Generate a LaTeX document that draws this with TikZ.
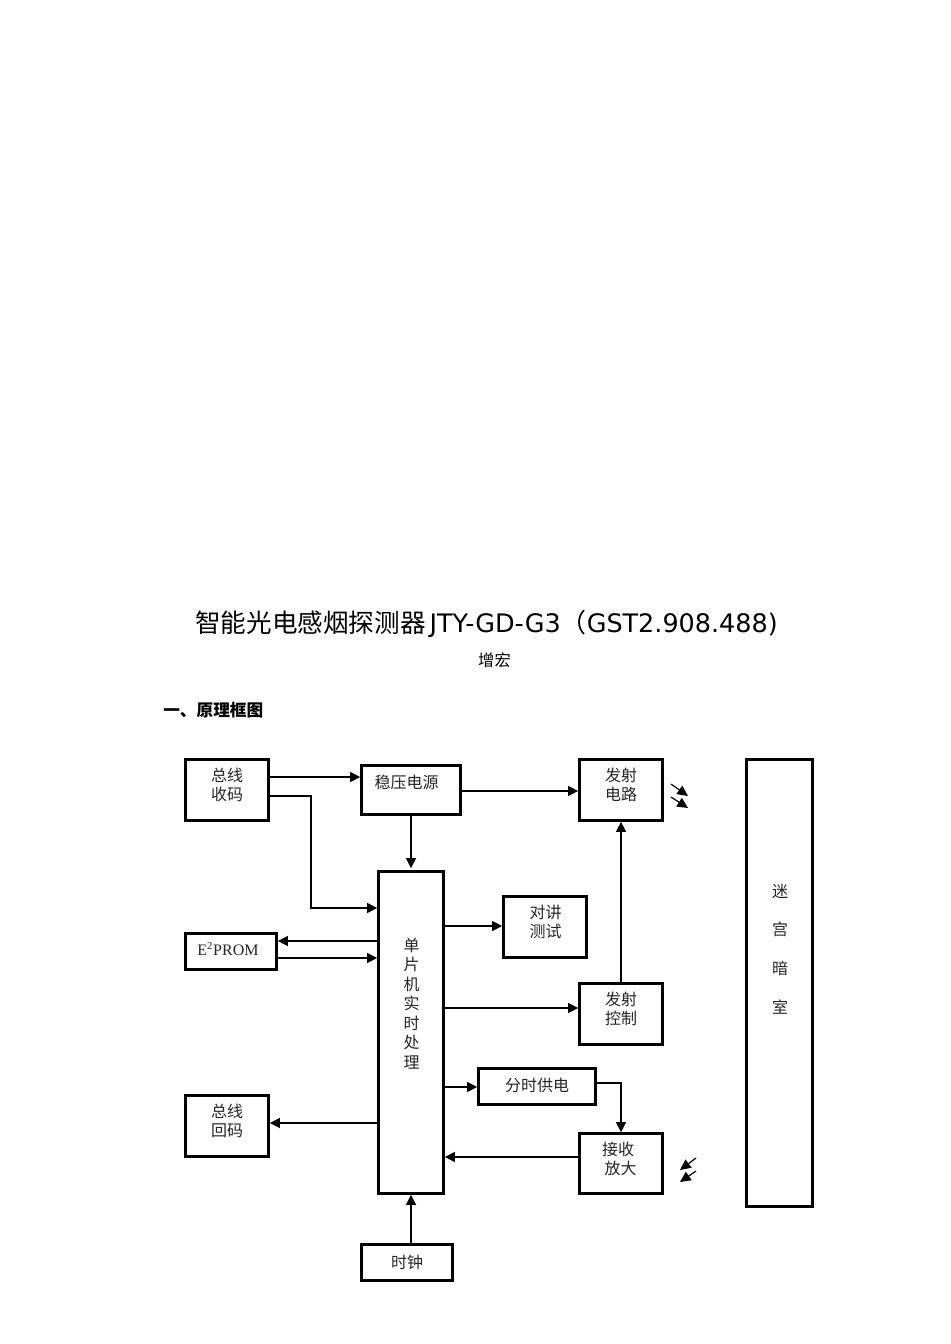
\documentclass[tikz,border=0pt]{standalone}
\usepackage{fontspec}
\setmainfont{DejaVu Sans}
\newfontfamily\cjk{Noto Sans CJK SC}
\newfontfamily\tnr{Liberation Serif}
\usetikzlibrary{arrows.meta}
\tikzset{
  x=0.75pt,y=-0.75pt,
  box/.style={draw=black,line width=1.9pt,fill=white,inner sep=0pt},
  lbl/.style={inner sep=0pt,align=center,font=\cjk\fontsize{12}{14.25}\selectfont,text=black!85},
  conn/.style={draw=black,line width=1pt,-{Triangle[length=7.5pt,width=7.5pt]}},
  ray/.style={draw=black,line width=0.9pt,-{Triangle[length=8pt,width=7.5pt]}}
}
\newcommand{\boxat}[5]{% name, x0, y0, x1, y1
  \node[box,minimum width=#4*0.75pt-#2*0.75pt-0.6pt,minimum height=#5*0.75pt-#3*0.75pt-0.6pt] (#1) at ({(#2+#4)/2},{(#3+#5)/2}) {};
}
\begin{document}
\begin{tikzpicture}
\useasboundingbox[fill=white] (0,0) rectangle (950,1344);
% headings
\node[inner sep=0pt,anchor=center] (title) at (486.5,623.5) {\fontsize{19.2}{23}\selectfont\cjk 智能光电感烟探测器\hspace{3pt}\fontsize{19.1}{23}\selectfont\rmfamily JTY-GD-G3\cjk\fontsize{19.5}{23}\selectfont（\fontsize{19.1}{23}\selectfont\rmfamily GST2.908.488)};
\node[inner sep=0pt] (author) at (494.5,660) {\cjk\fontsize{12.2}{14}\selectfont 增宏};
\node[inner sep=0pt,anchor=west] (section) at (163,710) {\cjk\bfseries\fontsize{12.5}{14}\selectfont 一、原理框图};
% boxes
\boxat{zx}{185}{759}{269}{821}
\boxat{wy}{361}{765}{461}{815}
\boxat{fs}{579}{759}{663}{821}
\boxat{mg}{746}{759}{813}{1207}
\boxat{dp}{378}{871}{444}{1194}
\boxat{dj}{503}{896}{587}{958}
\boxat{ep}{185}{933}{277}{970}
\boxat{fk}{579}{983}{663}{1045}
\boxat{fd}{478}{1068}{596}{1105}
\boxat{hm}{185}{1095}{269}{1157}
\boxat{js}{579}{1133}{663}{1194}
\boxat{sz}{361}{1244}{453}{1281}
% labels
\node[lbl] (t1) at (227,785) {总线\\收码};
\node[lbl] (t2) at (406.5,782) {稳压电源};
\node[lbl] (t3) at (621,785) {发射\\电路};
\node[lbl] (t4) at (545.5,922) {对讲\\测试};
\node[inner sep=0pt,font=\tnr\fontsize{12}{14}\selectfont,text=black!85] (t5) at (228,949) {E\textsuperscript{2}PROM};
\node[lbl] (t6) at (621,1009) {发射\\控制};
\node[lbl] (t7) at (537,1085) {分时供电};
\node[lbl] (t8) at (227,1121) {总线\\回码};
\node[lbl] (t9) at (618,1158.5) {接收\\\hspace*{4pt}放大};
\node[lbl] (t10) at (407,1262) {时钟};
\node[lbl,font=\cjk\fontsize{12}{14.6}\selectfont] (t11) at (411.5,1003.5) {单\\片\\机\\实\\时\\处\\理};
\node[lbl,font=\cjk\fontsize{12}{29}\selectfont] (t12) at (780,949) {迷\\宫\\暗\\室};
% connector levels
\path (0,777) coordinate (a1) (0,791) coordinate (a2) (0,796) coordinate (a3)
      (0,908) coordinate (a4) (0,926) coordinate (a5) (0,941) coordinate (a6)
      (0,958) coordinate (a7) (0,1008) coordinate (a8) (0,1087) coordinate (a9)
      (0,1083) coordinate (a10) (0,1123) coordinate (a11) (0,1157) coordinate (a12)
      (311,0) coordinate (b1) (411,0) coordinate (b2) (621,0) coordinate (b3);
% connectors
\draw[conn] (zx.east |- a1) -- (wy.west |- a1);
\draw[conn] (zx.east |- a3) -- (b1 |- a3) -- (b1 |- a4) -- (dp.west |- a4);
\draw[conn] (wy.east |- a2) -- (fs.west |- a2);
\draw[conn,shorten >=1.5pt] (b2 |- wy.south) -- (b2 |- dp.north);
\draw[conn] (dp.west |- a6) -- (ep.east |- a6);
\draw[conn] (ep.east |- a7) -- (dp.west |- a7);
\draw[conn] (dp.east |- a5) -- (dj.west |- a5);
\draw[conn] (dp.east |- a8) -- (fk.west |- a8);
\draw[conn] (b3 |- fk.north) -- (b3 |- fs.south);
\draw[conn] (dp.east |- a9) -- (fd.west |- a9);
\draw[conn] (fd.east |- a10) -- (b3 |- a10) -- (b3 |- js.north);
\draw[conn] (js.west |- a12) -- (dp.east |- a12);
\draw[conn] (dp.west |- a11) -- (hm.east |- a11);
\draw[conn] (b2 |- sz.north) -- (b2 |- dp.south);
% light rays
\path (671,784) coordinate (r1s) (688,796) coordinate (r1e)
      (671,797) coordinate (r2s) (688,808) coordinate (r2e)
      (696,1158) coordinate (r3s) (680,1170) coordinate (r3e)
      (696,1171) coordinate (r4s) (680,1182) coordinate (r4e);
\draw[ray] (r1s) -- (r1e);
\draw[ray] (r2s) -- (r2e);
\draw[ray] (r3s) -- (r3e);
\draw[ray] (r4s) -- (r4e);
\end{tikzpicture}
\end{document}
